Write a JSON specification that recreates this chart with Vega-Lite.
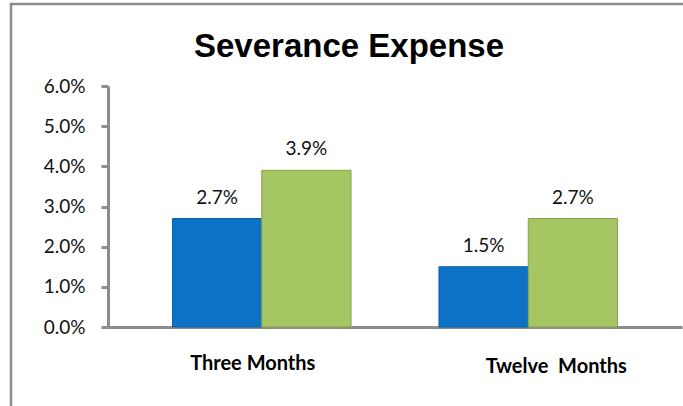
{
  "$schema": "https://vega.github.io/schema/vega-lite/v6.json",
  "autosize": {"type": "none"},
  "width": 574,
  "height": 241,
  "padding": {"left": 108, "right": 1, "top": 86, "bottom": 79},
  "background": "white",
  "title": {
    "text": "Severance Expense",
    "font": "Liberation Sans",
    "fontSize": 33,
    "fontWeight": "bold",
    "color": "#000000",
    "anchor": "middle",
    "baseline": "alphabetic",
    "offset": -87,
    "dx": -46
  },
  "data": {
    "values": [
      {"period": "Three Months", "series": "A", "value": 0.027},
      {"period": "Three Months", "series": "B", "value": 0.039},
      {"period": "Twelve  Months", "series": "A", "value": 0.015},
      {"period": "Twelve  Months", "series": "B", "value": 0.027}
    ]
  },
  "encoding": {
    "x": {
      "field": "period",
      "type": "nominal",
      "sort": null,
      "scale": {"paddingInner": 0.33, "paddingOuter": 0.242},
      "axis": {
        "title": null,
        "labelAngle": 0,
        "ticks": false,
        "domainColor": "#8c8c8c",
        "domainWidth": 3,
        "labelFont": "Lato",
        "labelFontSize": 20,
        "labelFontWeight": "bold",
        "labelColor": "#000000",
        "labelBaseline": "alphabetic",
        "labelPadding": {"expr": "datum.value === 'Three Months' ? 42 : 45"},
        "labelOffset": {"expr": "datum.value === 'Three Months' ? -9 : 28"},
        "labelExpr": "replace(datum.label, '  ', '\u00a0 ')"
      }
    },
    "xOffset": {"field": "series", "type": "nominal", "scale": {"paddingInner": 0, "paddingOuter": 0}},
    "y": {
      "field": "value",
      "type": "quantitative",
      "scale": {"domain": [0, 0.06], "nice": false},
      "axis": {
        "title": null,
        "values": [0, 0.01, 0.02, 0.03, 0.04, 0.05, 0.06],
        "format": ".1%",
        "grid": false,
        "domainColor": "#8c8c8c",
        "domainWidth": 3,
        "tickColor": "#8c8c8c",
        "tickWidth": 3,
        "tickSize": 7,
        "labelFont": "Lato",
        "labelFontSize": 19,
        "labelColor": "#111111",
        "labelPadding": 16
      }
    }
  },
  "layer": [
    {
      "mark": {"type": "bar", "strokeWidth": 1},
      "encoding": {
        "color": {
          "field": "series",
          "type": "nominal",
          "scale": {"range": ["#0c72c6", "#a5c663"]},
          "legend": {
            "orient": "none",
            "legendX": -97,
            "legendY": -82,
            "title": null,
            "padding": 420,
            "strokeColor": "#8c8c8c",
            "symbolOpacity": 0,
            "labelOpacity": 0,
            "labelExpr": "''"
          }
        },
        "stroke": {
          "field": "series",
          "type": "nominal",
          "scale": {"range": ["#0a5ea6", "#86a24c"]},
          "legend": null
        }
      }
    },
    {
      "mark": {"type": "text", "font": "Lato", "fontSize": 19, "color": "#111111", "baseline": "alphabetic", "dy": -15},
      "encoding": {
        "text": {"field": "value", "type": "quantitative", "format": ".1%"}
      }
    }
  ],
  "config": {
    "view": {"stroke": null},
    "legend": {"strokeWidth": 2.5}
  }
}
